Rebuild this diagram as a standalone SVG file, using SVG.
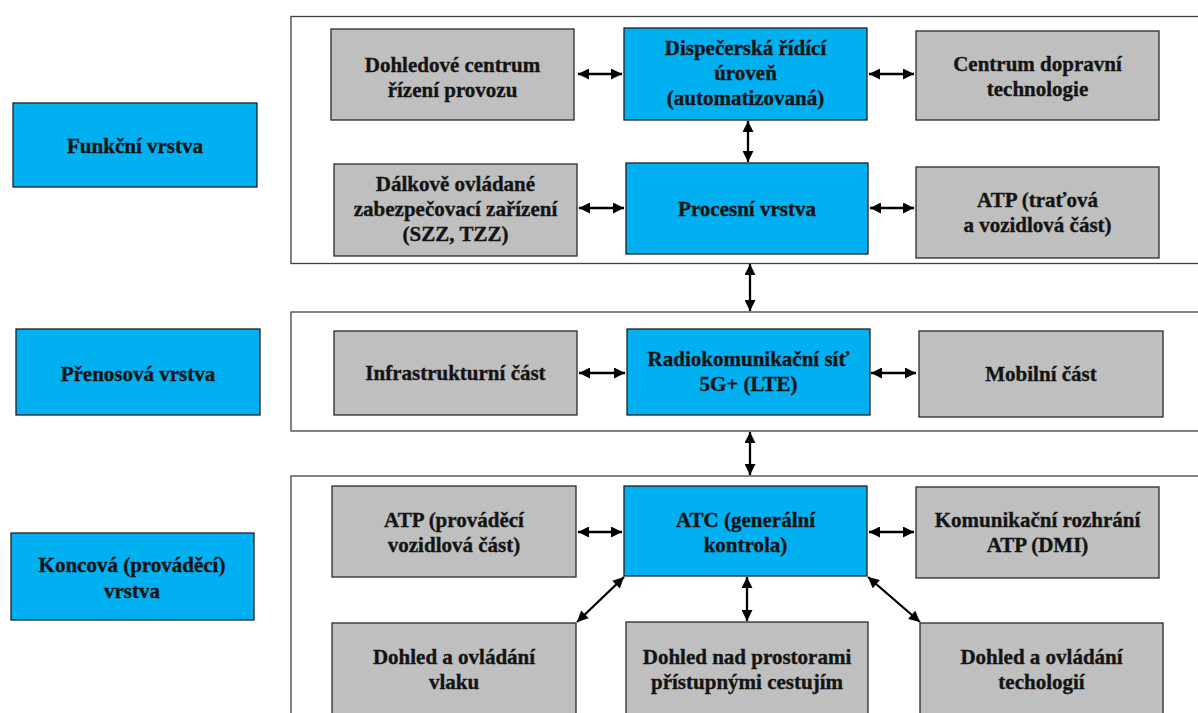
<svg xmlns="http://www.w3.org/2000/svg" width="1198" height="713" viewBox="0 0 1198 713">
  <style>
    .frame { fill: #ffffff; stroke: #404040; stroke-width: 1.3; }
    .blue { fill: #00B0F0; stroke: #1f1f1f; stroke-width: 1.3; }
    .gray { fill: #BFBFBF; stroke: #2a2a2a; stroke-width: 1.3; }
    .lbl { font-family: 'Liberation Serif', 'Times New Roman', serif; font-weight: 700; font-size: 21px; fill: #141414; stroke: #141414; stroke-width: 0.35; text-anchor: middle; }
    .conn { stroke: #000000; stroke-width: 2.3; fill: none; marker-start: url(#head); marker-end: url(#head); }
  </style>
  <defs>
    <marker id="head" viewBox="0 0 10 10" refX="10" refY="5" markerWidth="12" markerHeight="11" markerUnits="userSpaceOnUse" orient="auto-start-reverse">
      <path d="M0,0 L10,5 L0,10 z" fill="#000000"/>
    </marker>
  </defs>
  <rect width="1198" height="713" fill="#ffffff"/>

  <!-- layer frames -->
  <g id="frames">
    <rect class="frame" x="291" y="16.5" width="930" height="247"/>
    <rect class="frame" x="291" y="312" width="930" height="119"/>
    <rect class="frame" x="291" y="476" width="930" height="260"/>
  </g>

  <!-- layer captions -->
  <g id="funkcni-vrstva">
    <rect class="blue" x="13" y="103" width="244" height="84"/>
    <text class="lbl" x="135" y="153">Funkční vrstva</text>
  </g>
  <g id="prenosova-vrstva">
    <rect class="blue" x="16" y="329" width="244" height="86"/>
    <text class="lbl" x="138" y="381">Přenosová vrstva</text>
  </g>
  <g id="koncova-vrstva">
    <rect class="blue" x="11" y="533" width="243" height="87"/>
    <text class="lbl" x="132" y="572">Koncová (prováděcí)</text>
    <text class="lbl" x="132" y="598">vrstva</text>
  </g>

  <!-- functional layer -->
  <g id="dohledove-centrum">
    <rect class="gray" x="331" y="29" width="243" height="91"/>
    <text class="lbl" x="452.5" y="72">Dohledové centrum</text>
    <text class="lbl" x="452.5" y="97">řízení provozu</text>
  </g>
  <g id="dispecerska-uroven">
    <rect class="blue" x="624" y="28" width="243" height="92"/>
    <text class="lbl" x="745.5" y="55">Dispečerská řídící</text>
    <text class="lbl" x="745.5" y="80">úroveň</text>
    <text class="lbl" x="745.5" y="105">(automatizovaná)</text>
  </g>
  <g id="centrum-dopravni">
    <rect class="gray" x="916" y="31" width="243" height="89"/>
    <text class="lbl" x="1037.5" y="71">Centrum dopravní</text>
    <text class="lbl" x="1037.5" y="96">technologie</text>
  </g>
  <g id="dalkove-ovladane">
    <rect class="gray" x="334" y="164" width="243" height="92"/>
    <text class="lbl" x="455.5" y="191">Dálkově ovládané</text>
    <text class="lbl" x="455.5" y="216">zabezpečovací zařízení</text>
    <text class="lbl" x="455.5" y="241">(SZZ, TZZ)</text>
  </g>
  <g id="procesni-vrstva">
    <rect class="blue" x="626" y="163" width="242" height="91"/>
    <text class="lbl" x="747" y="216">Procesní vrstva</text>
  </g>
  <g id="atp-tratova">
    <rect class="gray" x="916" y="167" width="243" height="91"/>
    <text class="lbl" x="1037.5" y="207">ATP (traťová</text>
    <text class="lbl" x="1037.5" y="232">a vozidlová část)</text>
  </g>

  <!-- transmission layer -->
  <g id="infrastrukturni-cast">
    <rect class="gray" x="334" y="331" width="243" height="84"/>
    <text class="lbl" x="455.5" y="380">Infrastrukturní část</text>
  </g>
  <g id="radiokomunikacni-sit">
    <rect class="blue" x="627" y="329" width="243" height="86"/>
    <text class="lbl" x="748.5" y="366">Radiokomunikační síť</text>
    <text class="lbl" x="748.5" y="391">5G+ (LTE)</text>
  </g>
  <g id="mobilni-cast">
    <rect class="gray" x="919" y="331" width="244" height="86"/>
    <text class="lbl" x="1041" y="381">Mobilní část</text>
  </g>

  <!-- end (executive) layer -->
  <g id="atp-provadeci">
    <rect class="gray" x="332" y="486" width="244" height="91"/>
    <text class="lbl" x="454" y="527">ATP (prováděcí</text>
    <text class="lbl" x="454" y="552">vozidlová část)</text>
  </g>
  <g id="atc">
    <rect class="blue" x="624" y="486" width="243" height="90"/>
    <text class="lbl" x="745.5" y="527">ATC (generální</text>
    <text class="lbl" x="745.5" y="552">kontrola)</text>
  </g>
  <g id="komunikacni-rozhrani">
    <rect class="gray" x="916" y="487" width="243" height="91"/>
    <text class="lbl" x="1037.5" y="527">Komunikační rozhrání</text>
    <text class="lbl" x="1037.5" y="552">ATP (DMI)</text>
  </g>
  <g id="dohled-vlaku">
    <rect class="gray" x="332" y="623" width="244" height="110"/>
    <text class="lbl" x="454" y="664">Dohled a ovládání</text>
    <text class="lbl" x="454" y="689">vlaku</text>
  </g>
  <g id="dohled-prostory">
    <rect class="gray" x="626" y="622" width="242" height="110"/>
    <text class="lbl" x="747" y="664">Dohled nad prostorami</text>
    <text class="lbl" x="747" y="689">přístupnými cestujím</text>
  </g>
  <g id="dohled-technologii">
    <rect class="gray" x="920" y="623" width="243" height="110"/>
    <text class="lbl" x="1041.5" y="664">Dohled a ovládání</text>
    <text class="lbl" x="1041.5" y="689">techologií</text>
  </g>

  <!-- connectors -->
  <g id="connectors">
    <line class="conn" x1="578" y1="74" x2="622" y2="74"/>
    <line class="conn" x1="869" y1="74" x2="914" y2="74"/>
    <line class="conn" x1="579" y1="208" x2="624" y2="208"/>
    <line class="conn" x1="870" y1="208" x2="914" y2="208"/>
    <line class="conn" x1="579" y1="373" x2="625" y2="373"/>
    <line class="conn" x1="871" y1="373" x2="916" y2="373"/>
    <line class="conn" x1="578" y1="532" x2="622" y2="532"/>
    <line class="conn" x1="869" y1="532" x2="914" y2="532"/>
    <line class="conn" x1="748" y1="121" x2="748" y2="162"/>
    <line class="conn" x1="750" y1="264" x2="750" y2="311"/>
    <line class="conn" x1="750" y1="432" x2="750" y2="475"/>
    <line class="conn" x1="747" y1="577" x2="747" y2="621"/>
    <line class="conn" x1="624" y1="577" x2="577" y2="622"/>
    <line class="conn" x1="868" y1="577" x2="920" y2="622"/>
  </g>
</svg>
